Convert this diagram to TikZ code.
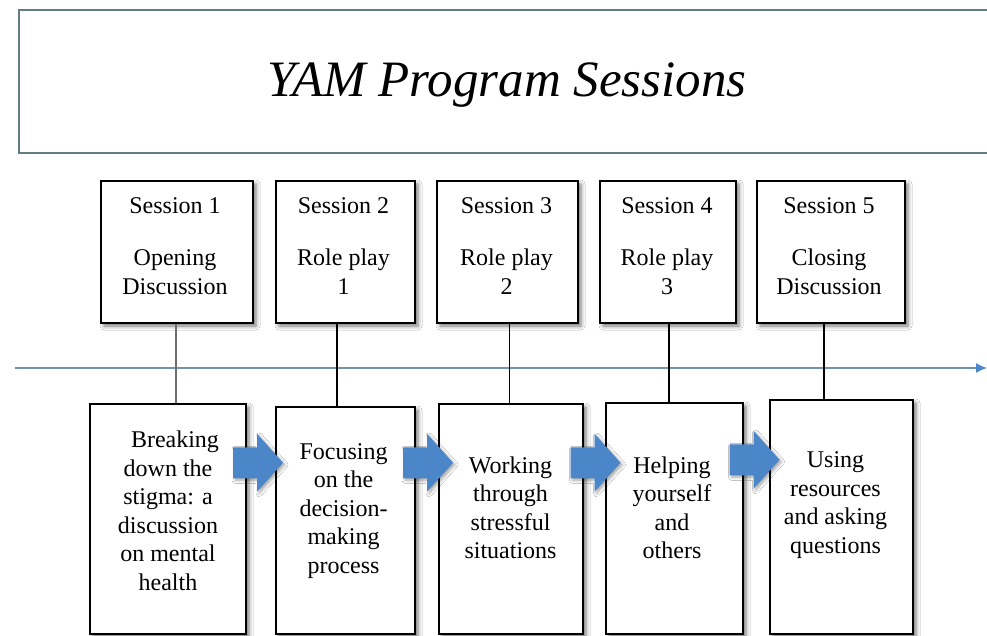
\documentclass[tikz,border=0pt]{standalone}
\usepackage{fontspec}
\setmainfont{Liberation Serif}
\usetikzlibrary{calc,arrows.meta,shadows.blur}

\definecolor{framegray}{RGB}{100,125,128}
\definecolor{axisblue}{RGB}{112,148,170}
\definecolor{flowblue}{RGB}{74,134,200}
\definecolor{stemgray}{RGB}{110,110,110}

\begin{document}
\begin{tikzpicture}[x=1pt,y=-1pt,
  box/.style={draw=black, line width=1.4pt, fill=white, inner sep=0pt,
    blur shadow={shadow xshift=3pt, shadow yshift=-3pt,
                 shadow blur radius=4pt, shadow opacity=55}},
  boxtext/.style={align=center, inner sep=0pt,
    font=\fontsize{24}{28.5}\selectfont},
  link/.style={line width=1.3pt, draw=black},
  flowarrow/.pic={
    \fill[flowblue,
      blur shadow={shadow xshift=2pt, shadow yshift=-2pt,
                   shadow blur radius=3pt, shadow opacity=35}]
      (-25,-15.5) -- (-1,-15.5) -- (-1,-29) -- (25,0)
      -- (-1,29) -- (-1,15.5) -- (-25,15.5) -- cycle;
  }
]
\useasboundingbox (0,0) rectangle (987,636);
\fill[white] (0,0) rectangle (987,636);

% title banner
\draw[framegray, line width=2pt, fill=white] (19,10) rectangle (1010,153);
\node[anchor=base, inner sep=0pt, font=\fontsize{51}{60}\selectfont\itshape]
  (title) at (507,97) {YAM Program Sessions};

% time line
\coordinate (tstart) at (15,368);
\coordinate (tend) at (987,368);
\draw[axisblue, line width=1.5pt,
  -{Latex[length=11pt,width=10pt,color=flowblue]}] (tstart) -- (tend);

% session boxes
\node[box, minimum width=152pt, minimum height=142pt] (s1) at (177,252) {};
\node[box, minimum width=139pt, minimum height=142pt] (s2) at (345.5,252) {};
\node[box, minimum width=141pt, minimum height=142pt] (s3) at (507.5,252) {};
\node[box, minimum width=136pt, minimum height=142pt] (s4) at (668,252) {};
\node[box, minimum width=148pt, minimum height=142pt] (s5) at (831,252) {};

\node[boxtext] (s1t) at ([xshift=-2pt,yshift=6pt]s1.center) {Session 1\\[24pt]Opening\\Discussion};
\node[boxtext] (s2t) at ([xshift=-2pt,yshift=6pt]s2.center) {Session 2\\[24pt]Role play\\1};
\node[boxtext] (s3t) at ([xshift=-1pt,yshift=6pt]s3.center) {Session 3\\[24pt]Role play\\2};
\node[boxtext] (s4t) at ([xshift=-1pt,yshift=6pt]s4.center) {Session 4\\[24pt]Role play\\3};
\node[boxtext] (s5t) at ([xshift=-2pt,yshift=6pt]s5.center) {Session 5\\[24pt]Closing\\Discussion};

% topic boxes
\node[box, minimum width=156pt, minimum height=230pt] (b1) at (168,519) {};
\node[box, minimum width=139pt, minimum height=227pt] (b2) at (345.5,520.5) {};
\node[box, minimum width=144pt, minimum height=230pt] (b3) at (511,519) {};
\node[box, minimum width=137pt, minimum height=231pt] (b4) at (674.5,518.5) {};
\node[box, minimum width=143pt, minimum height=234pt] (b5) at (841.5,517) {};

\node[boxtext] (b1t) at ([yshift=8pt]b1.center)
  {\hspace*{14pt}Breaking\\down the\\stigma: a\\discussion\\on mental\\health};
\node[boxtext] (b2t) at ([xshift=-2pt,yshift=9.5pt]b2.center)
  {Focusing\\on the\\decision-\\making\\process};
\node[boxtext] (b3t) at ([xshift=-0.5pt,yshift=11pt]b3.center)
  {Working\\through\\stressful\\situations};
\node[boxtext] (b4t) at ([xshift=-2.5pt,yshift=10.5pt]b4.center)
  {Helping\\yourself\\and\\others};
\node[boxtext] (b5t) at ([xshift=-6pt,yshift=12pt]b5.center)
  {Using\\resources\\and asking\\questions};

% stems from each session down to its topic
\draw[link, draw=stemgray] ([xshift=-1pt]s1.south) -- ([xshift=-1pt]s1.south |- b1.north);
\draw[link] ([xshift=-8.5pt]s2.south) -- ([xshift=-8.5pt]s2.south |- b2.north);
\draw[link] ([xshift=2pt]s3.south) -- ([xshift=2pt]s3.south |- b3.north);
\draw[link] ([xshift=1pt]s4.south) -- ([xshift=1pt]s4.south |- b4.north);
\draw[link] ([xshift=-7pt]s5.south) -- ([xshift=-7pt]s5.south |- b5.north);

% flow arrows between topics
\coordinate (f1) at ($(b1.east)!0.5!(b2.west)+(-3,-57)$);
\coordinate (f2) at ($(b2.east)!0.5!(b3.west)+(1,-57)$);
\coordinate (f3) at ($(b3.east)!0.5!(b4.west)+(1,-56)$);
\coordinate (f4) at ($(b4.east)!0.5!(b5.west)+(-2,-58)$);
\foreach \f in {f1,f2,f3,f4} \pic at (\f) {flowarrow};
\end{tikzpicture}
\end{document}
